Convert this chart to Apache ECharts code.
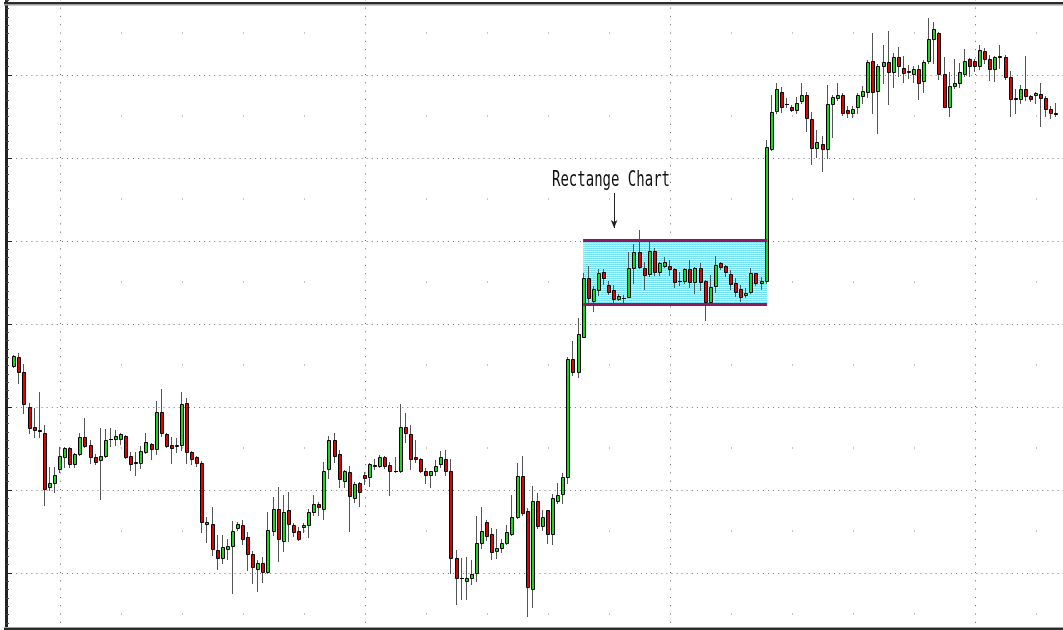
<!DOCTYPE html>
<html>
<head>
<meta charset="utf-8">
<title>Rectangle Chart</title>
<script src="https://cdn.jsdelivr.net/npm/echarts@6/dist/echarts.min.js"></script>
<style>
html, body { margin: 0; padding: 0; background: #fff; }
#main { width: 1063px; height: 630px; }
</style>
</head>
<body>
<div id="main"></div>
<script>
// prices in points (12242 = 1.2242), one entry per bar
var opens = [
  12242,12251,12236,12201,12181,12178,12175,12121,12125,12139,
  12151,12160,12144,12154,12171,12163,12151,12148,12152,12169,
  12169,12169,12172,12152,12145,12145,12156,12164,12159,12196,
  12174,12163,12162,12163,12205,12156,12151,12145,12084,12084,
  12058,12050,12059,12062,12080,12083,12071,12054,12039,12045,
  12036,12077,12099,12067,12098,12083,12077,12081,12083,12096,
  12104,12099,12139,12168,12154,12127,12136,12110,12125,12133,
  12131,12142,12142,12151,12143,12137,12137,12181,12174,12151,
  12149,12137,12133,12137,12144,12149,12137,12050,12030,12027,
  12030,12035,12065,12086,12074,12057,12060,12065,12074,12091,
  12132,12097,12019,12107,12082,12098,12074,12107,12114,12131,
  12249,12236,12271,12330,12307,12318,12336,12323,12318,12309,
  12310,12311,12340,12356,12340,12334,12357,12336,12342,12342,
  12339,12327,12327,12339,12326,12340,12327,12306,12322,12345,
  12342,12334,12325,12319,12313,12316,12335,12325,12327,12459,
  12497,12516,12504,12501,12498,12507,12513,12489,12460,12464,
  12459,12504,12510,12513,12498,12495,12501,12512,12516,12547,
  12517,12542,12546,12536,12551,12540,12536,12534,12539,12527,
  12547,12569,12575,12534,12501,12522,12525,12534,12549,12547,
  12542,12557,12549,12539,12551,12551,12531,12510,12509,12519,
  12512,12513,12514,12510,12499,12495
];
var highs = [
  12253,12255,12244,12205,12200,12216,12183,12141,12141,12161,
  12161,12161,12155,12175,12190,12168,12154,12180,12179,12180,
  12178,12175,12173,12156,12156,12162,12175,12165,12207,12219,
  12175,12171,12170,12216,12210,12157,12152,12147,12091,12101,
  12073,12073,12069,12087,12086,12088,12076,12057,12048,12051,
  12096,12111,12121,12113,12116,12085,12081,12085,12099,12113,
  12106,12146,12172,12175,12158,12138,12142,12126,12126,12136,
  12145,12149,12153,12152,12146,12151,12204,12195,12183,12168,
  12150,12140,12137,12148,12157,12158,12149,12058,12050,12051,
  12048,12092,12101,12088,12080,12079,12069,12083,12113,12145,
  12152,12100,12122,12115,12098,12098,12114,12125,12135,12251,
  12267,12290,12335,12342,12322,12339,12339,12327,12323,12314,
  12313,12356,12364,12378,12346,12366,12360,12346,12351,12348,
  12340,12336,12340,12348,12341,12345,12328,12333,12352,12346,
  12343,12338,12330,12323,12320,12340,12335,12331,12468,12513,
  12525,12521,12510,12503,12511,12525,12516,12496,12478,12472,
  12523,12513,12525,12515,12502,12502,12515,12522,12548,12575,
  12544,12563,12577,12555,12561,12552,12543,12542,12543,12548,
  12590,12586,12576,12551,12536,12549,12545,12559,12550,12549,
  12563,12560,12553,12552,12563,12553,12537,12519,12523,12552,
  12513,12516,12525,12512,12502,12505
];
var lows = [
  12241,12225,12195,12175,12171,12171,12103,12118,12116,12136,
  12141,12141,12141,12153,12161,12145,12144,12109,12151,12162,
  12163,12164,12150,12138,12133,12140,12155,12149,12154,12172,
  12161,12145,12156,12158,12145,12144,12142,12076,12066,12053,
  12039,12045,12049,12015,12078,12064,12038,12025,12017,12026,
  12035,12073,12047,12057,12067,12072,12068,12076,12071,12093,
  12093,12089,12130,12146,12121,12121,12077,12106,12102,12124,
  12122,12139,12141,12140,12113,12136,12136,12166,12139,12146,
  12136,12125,12121,12133,12141,12133,12035,12004,12009,12009,
  12024,12027,12060,12068,12049,12050,12056,12064,12073,12090,
  12093,11992,12001,12080,12078,12065,12064,12105,12105,12125,
  12233,12231,12271,12306,12297,12313,12324,12314,12305,12308,
  12306,12311,12325,12340,12319,12332,12333,12333,12341,12333,
  12321,12323,12325,12321,12315,12318,12288,12305,12316,12339,
  12332,12319,12312,12307,12311,12315,12323,12319,12325,12458,
  12495,12496,12501,12497,12495,12505,12477,12444,12451,12437,
  12450,12471,12508,12493,12491,12491,12495,12505,12511,12495,
  12475,12525,12504,12521,12532,12526,12530,12526,12509,12516,
  12545,12545,12529,12501,12492,12520,12521,12532,12532,12537,
  12539,12545,12528,12527,12540,12529,12492,12495,12505,12508,
  12507,12505,12482,12492,12490,12492
];
var closes = [
  12252,12236,12204,12180,12178,12177,12119,12125,12133,12152,
  12160,12144,12154,12171,12162,12151,12146,12152,12168,12169,
  12172,12174,12151,12144,12146,12157,12166,12159,12196,12175,
  12162,12160,12163,12204,12156,12149,12145,12086,12086,12059,
  12050,12061,12062,12077,12084,12069,12054,12041,12045,12036,
  12078,12099,12069,12096,12084,12076,12069,12083,12096,12104,
  12101,12137,12168,12152,12129,12137,12112,12124,12116,12130,
  12144,12143,12151,12142,12137,12137,12181,12175,12149,12149,
  12137,12133,12137,12142,12151,12137,12050,12030,12030,12030,
  12034,12065,12077,12072,12056,12060,12065,12076,12091,12132,
  12095,12021,12107,12082,12091,12074,12110,12113,12131,12249,
  12236,12274,12330,12310,12319,12335,12330,12316,12309,12312,
  12310,12340,12356,12341,12333,12357,12336,12345,12346,12339,
  12326,12327,12339,12326,12340,12326,12306,12321,12343,12341,
  12336,12324,12316,12311,12315,12335,12325,12327,12461,12496,
  12519,12501,12504,12498,12505,12513,12490,12460,12466,12459,
  12504,12511,12513,12495,12495,12499,12513,12517,12546,12516,
  12542,12546,12536,12551,12542,12535,12537,12539,12525,12546,
  12569,12579,12534,12501,12522,12525,12536,12547,12542,12542,
  12558,12549,12539,12551,12552,12531,12509,12509,12519,12512,
  12509,12515,12510,12499,12495,12494
];

// the rectangle (consolidation) zone and its note
var zoneBars = [111.9, 148.1];
var zoneTop = 12368;
var zoneBottom = 12304;
var arrowBar = 118;
var arrowFrom = 12415;
var arrowTo = 12380;
var noteText = 'Rectange Chart';

var upColor = '#1ed41e';
var downColor = '#e40000';

var candles = opens.map(function (o, i) {
  return [i, o, closes[i], lows[i], highs[i]];
});

// dotted vertical grid: every 12 bars a faint dot row, every 60 bars a full line
var vLines = [];
for (var k = 9; k < opens.length; k += 12) {
  if ((k - 9) % 60 === 0) {
    vLines.push({ xAxis: k, lineStyle: { color: '#666', width: 1, type: [1, 7.3] } });
  } else {
    vLines.push({ xAxis: k, lineStyle: { color: '#888', width: 1, type: [1, 82], dashOffset: 41.5 } });
  }
}

// striped cyan fill of the zone
var pat = document.createElement('canvas');
pat.width = 2;
pat.height = 2;
var pg = pat.getContext('2d');
pg.fillStyle = '#74e3f4';
pg.fillRect(0, 0, 2, 1);
pg.fillStyle = '#e2fafe';
pg.fillRect(0, 1, 2, 1);
pg.fillStyle = '#b4f0fa';
pg.fillRect(1, 1, 1, 1);

function renderCandle(params, api) {
  var i = api.value(0);
  var o = api.value(1), c = api.value(2), l = api.value(3), h = api.value(4);
  var pO = api.coord([i, o]);
  var pC = api.coord([i, c]);
  var pH = api.coord([i, h]);
  var pL = api.coord([i, l]);
  var cx = Math.round(pO[0]);
  var yTop = Math.round(Math.min(pO[1], pC[1])) + 0.5;
  var yBot = Math.round(Math.max(pO[1], pC[1])) + 0.5;
  var kids = [{
    type: 'line',
    shape: { x1: cx - 0.5, y1: Math.round(pH[1]), x2: cx - 0.5, y2: Math.round(pL[1]) + 1 },
    style: { stroke: '#555', lineWidth: 1 }
  }];
  if (yBot - yTop < 1) {
    kids.push({
      type: 'line',
      shape: { x1: cx - 2, y1: yTop, x2: cx + 2, y2: yTop },
      style: { stroke: '#000', lineWidth: 1 }
    });
  } else {
    kids.push({
      type: 'rect',
      shape: { x: cx - 1.5, y: yTop, width: 3, height: yBot - yTop },
      style: { fill: c > o ? upColor : downColor, stroke: '#000', lineWidth: 1 }
    });
  }
  return { type: 'group', children: kids };
}

var chart = echarts.init(document.getElementById('main'), null, { renderer: 'canvas' });

var option = {
  animation: false,
  backgroundColor: '#fff',
  grid: { left: 6, right: 0, top: -8, bottom: -26, containLabel: false, outerBoundsMode: 'none' },
  xAxis: {
    type: 'value',
    min: -1.63,
    max: 206.3,
    axisLine: { show: false },
    axisTick: { show: false },
    axisLabel: { show: false },
    splitLine: { show: false }
  },
  yAxis: {
    type: 'value',
    min: 11952,
    max: 12616,
    interval: 83,
    axisLine: { show: true, onZero: false, lineStyle: { color: '#222', width: 3 } },
    axisTick: { show: true, inside: true, length: 6, lineStyle: { color: '#222' } },
    minorTick: { show: true, splitNumber: 10, length: 3, lineStyle: { color: '#444' } },
    axisLabel: { show: false },
    splitLine: { show: true, lineStyle: { color: '#777', width: 1, type: [1, 4.08] } }
  },
  series: [
    {
      name: 'grid',
      type: 'line',
      data: [],
      silent: true,
      markLine: {
        z: 1,
        silent: true,
        symbol: 'none',
        label: { show: false },
        data: vLines
      }
    },
    {
      name: 'zone',
      type: 'line',
      data: [],
      silent: true,
      markArea: {
        z: 2,
        silent: true,
        itemStyle: { color: { image: pat, repeat: 'repeat' }, borderWidth: 0 },
        data: [[{ coord: [zoneBars[0], zoneTop] }, { coord: [zoneBars[1], zoneBottom] }]]
      },
      markLine: {
        z: 5,
        silent: true,
        symbol: 'none',
        label: { show: false },
        lineStyle: { color: '#8e1b5e', width: 3, type: 'solid' },
        data: [
          [{ coord: [zoneBars[0], zoneTop] }, { coord: [zoneBars[1], zoneTop] }],
          [{ coord: [zoneBars[0], zoneBottom] }, { coord: [zoneBars[1], zoneBottom] }]
        ]
      }
    },
    {
      name: 'note',
      type: 'line',
      data: [],
      silent: true,
      markLine: {
        z: 5,
        silent: true,
        symbol: ['none', 'arrow'],
        symbolSize: [5, 8],
        label: { show: false },
        lineStyle: { color: '#222', width: 1, type: 'solid' },
        data: [[{ coord: [arrowBar, arrowFrom] }, { coord: [arrowBar, arrowTo] }]]
      }
    },
    {
      name: 'price',
      type: 'custom',
      z: 3,
      clip: false,
      data: candles,
      encode: { x: 0, y: [1, 2, 3, 4] },
      renderItem: renderCandle
    }
  ],
  graphic: [
    { type: 'rect', silent: true, z: 100, shape: { x: 4, y: 2, width: 1059, height: 2 }, style: { fill: '#2b2b2b' } },
    { type: 'rect', silent: true, z: 100, shape: { x: 4, y: 4, width: 1059, height: 1.5 }, style: { fill: '#9c9c9c' } },
    { type: 'rect', silent: true, z: 100, shape: { x: 4, y: 627, width: 1059, height: 1 }, style: { fill: '#9c9c9c' } },
    { type: 'rect', silent: true, z: 100, shape: { x: 4, y: 628, width: 1059, height: 2 }, style: { fill: '#2b2b2b' } },
    {
      type: 'text',
      silent: true,
      z: 100,
      x: 552,
      y: 170,
      scaleY: 1.5,
      style: { text: noteText, font: '14px "DejaVu Sans Mono"', fill: '#111' }
    }
  ]
};

chart.setOption(option);
</script>
</body>
</html>
